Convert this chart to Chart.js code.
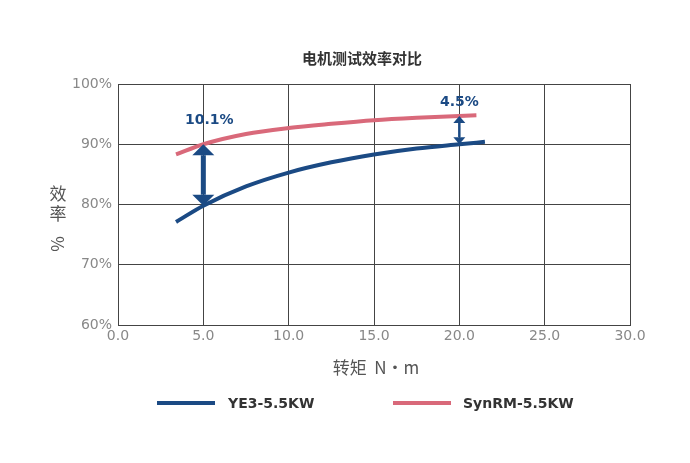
<!DOCTYPE html>
<html><head><meta charset="utf-8">
<script src="https://cdn.jsdelivr.net/npm/chart.js@4/dist/chart.umd.min.js"></script>
<style>body{margin:0;background:#fff}#wrap{width:690px;height:463px}</style>
</head><body><div id="wrap"><canvas id="c"></canvas></div>
<script>
// ── Datos ──
const TORQUE_YE3   = [3.4, 5.0, 7.5, 10.0, 12.5, 15.0, 17.5, 20.0, 21.5];
const EFF_YE3      = [77.1, 79.8, 83.0, 85.3, 87.0, 88.3, 89.3, 90.0, 90.4];
const TORQUE_SYN   = [3.4, 5.0, 7.5, 10.0, 12.5, 15.0, 17.5, 20.0, 21.0];
const EFF_SYN      = [88.3, 90.0, 91.7, 92.7, 93.4, 94.0, 94.4, 94.7, 94.8];
const SERIES_NAMES = ['YE3-5.5KW', 'SynRM-5.5KW'];
const GAPS = [ { x: 5.0, lo: 79.8, hi: 90.0, label: '10.1%', dx: 6, dy: -20 },
               { x: 20.0, lo: 90.0, hi: 94.7, label: '4.5%', dx: 0, dy: -10 } ];
const BLUE = '#1b4a84', RED = '#d9697a';

const overlay = {
  id: 'overlay',
  afterDraw(chart) {
    const { ctx, scales: { x, y } } = chart;
    ctx.save();
    ctx.fillStyle = '#333';
    ctx.font = 'bold 15px "Noto Sans CJK SC"';
    ctx.textAlign = 'center';
    ctx.fillText('电机测试效率对比', 362, 64);
    ctx.font = '17px "Noto Sans CJK SC"';
    ctx.fillStyle = '#555';
    ctx.fillText('转矩  N·m', 376, 374);
    ctx.fillText('效', 58, 200);
    ctx.fillText('率', 58, 220);
    ctx.save(); ctx.translate(58, 240); ctx.rotate(-Math.PI / 2);
    ctx.textBaseline = 'middle'; ctx.fillText('%', -4, 0); ctx.restore();
    // arrows
    GAPS.forEach((g, i) => {
      const px = x.getPixelForValue(g.x), y1 = y.getPixelForValue(g.hi), y2 = y.getPixelForValue(g.lo);
      const w = i === 0 ? 5 : 2.5, hw = i === 0 ? 11 : 6, hh = i === 0 ? 11 : 7;
      ctx.fillStyle = BLUE; ctx.strokeStyle = BLUE; ctx.lineWidth = w;
      ctx.beginPath(); ctx.moveTo(px, y1 + hh); ctx.lineTo(px, y2 - hh); ctx.stroke();
      ctx.beginPath(); ctx.moveTo(px, y1); ctx.lineTo(px - hw, y1 + hh); ctx.lineTo(px + hw, y1 + hh); ctx.fill();
      ctx.beginPath(); ctx.moveTo(px, y2); ctx.lineTo(px - hw, y2 - hh); ctx.lineTo(px + hw, y2 - hh); ctx.fill();
      ctx.font = 'bold 14px "DejaVu Sans"'; ctx.textAlign = 'center';
      ctx.fillText(g.label, px + g.dx, y1 + g.dy);
    });
    // legend
    [[157, 228, BLUE], [393, 463, RED]].forEach(([lx, tx, c], i) => {
      ctx.strokeStyle = c; ctx.lineWidth = 4;
      ctx.beginPath(); ctx.moveTo(lx, 403); ctx.lineTo(lx + 58, 403); ctx.stroke();
      ctx.fillStyle = '#333'; ctx.font = 'bold 14px "DejaVu Sans"'; ctx.textAlign = 'left';
      ctx.textBaseline = 'middle'; ctx.fillText(SERIES_NAMES[i], tx, 404);
    });
    ctx.restore();
  }
};

new Chart(document.getElementById('c'), {
  type: 'line',
  data: { datasets: [
    { label: SERIES_NAMES[0], data: TORQUE_YE3.map((t, i) => ({ x: t, y: EFF_YE3[i] })), borderColor: BLUE, borderWidth: 4, pointRadius: 0, cubicInterpolationMode: 'monotone' },
    { label: SERIES_NAMES[1], data: TORQUE_SYN.map((t, i) => ({ x: t, y: EFF_SYN[i] })), borderColor: RED, borderWidth: 4, pointRadius: 0, cubicInterpolationMode: 'monotone' },
  ]},
  options: {
    responsive: true, maintainAspectRatio: false, animation: false,
    layout: { padding: { top: 84, right: 60, left: 0, bottom: 0 } },
    plugins: { legend: { display: false }, tooltip: { enabled: false } },
    scales: {
      x: { type: 'linear', min: 0, max: 30,
        ticks: { stepSize: 5, color: '#888', font: { size: 14, family: 'DejaVu Sans' }, callback: v => v.toFixed(1) },
        grid: { color: '#444', lineWidth: 1, drawTicks: false }, border: { color: '#444' },
        afterFit: s => { s.height = 138; } },
      y: { min: 60, max: 100,
        ticks: { stepSize: 10, color: '#888', font: { size: 14, family: 'DejaVu Sans' }, callback: v => v + '%', padding: 6 },
        grid: { color: '#444', lineWidth: 1, drawTicks: false }, border: { color: '#444' },
        afterFit: s => { s.width = 118; } },
    }
  },
  plugins: [overlay]
});
</script></body></html>
